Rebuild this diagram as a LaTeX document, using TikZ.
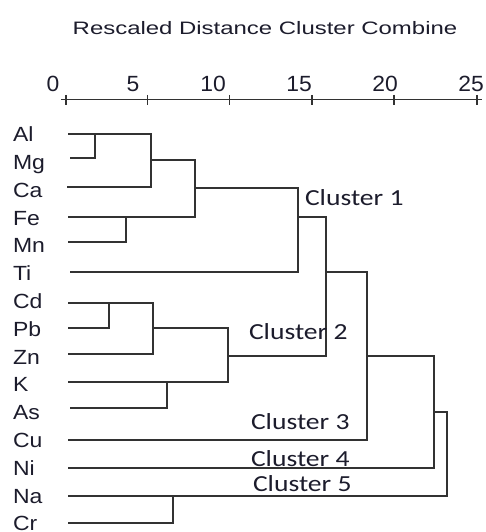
\documentclass[tikz,border=0pt]{standalone}
\usepackage{fontspec}
\setmainfont{Liberation Sans}
\newfontfamily\titlefont[FakeStretch=1.33]{Liberation Sans}
\newfontfamily\leaffont[FakeStretch=1.12]{Liberation Sans}
\newfontfamily\numfont[FakeStretch=1.04]{Liberation Sans}
\newfontfamily\clusterfont[FakeStretch=1.2]{Carlito}
\definecolor{ink}{RGB}{28,28,44}
\definecolor{tree}{RGB}{50,50,50}

\begin{document}
\begin{tikzpicture}[x=1pt,y=-1pt,
  every node/.style={inner sep=0pt,outer sep=0pt,text=ink},
  titletext/.style={anchor=base,font=\titlefont\fontsize{18}{18}\selectfont},
  numtext/.style={anchor=base,font=\numfont\fontsize{22}{22}\selectfont},
  leaftext/.style={anchor=base west,font=\leaffont\fontsize{20.5}{20.5}\selectfont},
  clustertext/.style={anchor=base west,font=\clusterfont\fontsize{23}{23}\selectfont},
  branch/.style={draw=tree,line width=1.7pt,line cap=rect},
  axisline/.style={draw=tree,line width=1pt},
  tickmark/.style={draw=tree,line width=1.5pt}]
\useasboundingbox (0,0) rectangle (485,532);

% title and distance scale
\node[titletext] (title) at (265,35) {Rescaled Distance Cluster Combine};
\foreach \v/\x in {0/53,5/133,10/213,15/299,20/385,25/471}
  \node[numtext] (n\v) at (\x,91.5) {\v};
\coordinate (axL) at (61,100);
\coordinate (axR) at (482,100);
\draw[axisline] (axL) -- (axR);
\foreach \x in {66,147.5,229.5,312,394,477}
  \draw[tickmark] (\x,95) -- (\x,105);

% leaf labels
\foreach \name [count=\i from 0] in {Al,Mg,Ca,Fe,Mn,Ti,Cd,Pb,Zn,K,As,Cu,Ni,Na,Cr}
  \node[leaftext] (t\name) at (13,141.7+27.8*\i) {\name};

% leaf line starts
\coordinate (lAl) at (69,134);
\coordinate (lMg) at (71,158);
\coordinate (lCa) at (68,187);
\coordinate (lFe) at (69,217);
\coordinate (lMn) at (69,242);
\coordinate (lTi) at (71,272);
\coordinate (lCd) at (69,303);
\coordinate (lPb) at (69,328);
\coordinate (lZn) at (69,354);
\coordinate (lK)  at (69,382);
\coordinate (lAs) at (71,408);
\coordinate (lCu) at (69,440);
\coordinate (lNi) at (69,468);
\coordinate (lNa) at (69,496);
\coordinate (lCr) at (69,523);

% merge points
\coordinate (AlMg) at (95,134);
\coordinate (AlCa) at (151,134);
\coordinate (g1)   at (151,160);
\coordinate (FeJ)  at (195,217);
\coordinate (FeMn) at (126,217);
\coordinate (g2)   at (195,188);
\coordinate (TiJ)  at (298,272);
\coordinate (g3)   at (298,217);
\coordinate (C2J)  at (326,356);
\coordinate (CdPb) at (109,303);
\coordinate (CdZn) at (153,303);
\coordinate (g4)   at (153,328);
\coordinate (KJ)   at (228,382);
\coordinate (KAs)  at (167,382);
\coordinate (g5)   at (228,356);
\coordinate (g6)   at (326,272);
\coordinate (CuJ)  at (367,440);
\coordinate (g7)   at (367,356);
\coordinate (NiJ)  at (434,468);
\coordinate (g8)   at (434,412);
\coordinate (NaJ)  at (447,496);
\coordinate (NaCr) at (173,496);

% first group
\draw[branch] (lMg) -| (AlMg);
\draw[branch] (lAl) -- (AlCa) |- (lCa);
\draw[branch] (lMn) -| (FeMn);
\draw[branch] (g1) -| (FeJ);
\draw[branch] (lFe) -- (FeJ);
\draw[branch] (g2) -| (TiJ);
\draw[branch] (lTi) -- (TiJ);
\draw[branch] (g3) -| (C2J);

% second group
\draw[branch] (lPb) -| (CdPb);
\draw[branch] (lCd) -- (CdZn) |- (lZn);
\draw[branch] (lAs) -| (KAs);
\draw[branch] (g4) -| (KJ);
\draw[branch] (lK) -- (KJ);
\draw[branch] (g5) -- (C2J);

% outer joins
\draw[branch] (g6) -| (CuJ);
\draw[branch] (lCu) -- (CuJ);
\draw[branch] (g7) -| (NiJ);
\draw[branch] (lNi) -- (NiJ);
\draw[branch] (g8) -| (NaJ);
\draw[branch] (lNa) -- (NaJ);
\draw[branch] (lCr) -| (NaCr);

% cluster labels
\node[clustertext] (c1) at (305,205.7) {Cluster 1};
\node[clustertext] (c2) at (249,339) {Cluster 2};
\node[clustertext] (c3) at (251,429.3) {Cluster 3};
\node[clustertext] (c4) at (251,466) {Cluster 4};
\node[clustertext] (c5) at (253,491.7) {Cluster 5};
\end{tikzpicture}
\end{document}
